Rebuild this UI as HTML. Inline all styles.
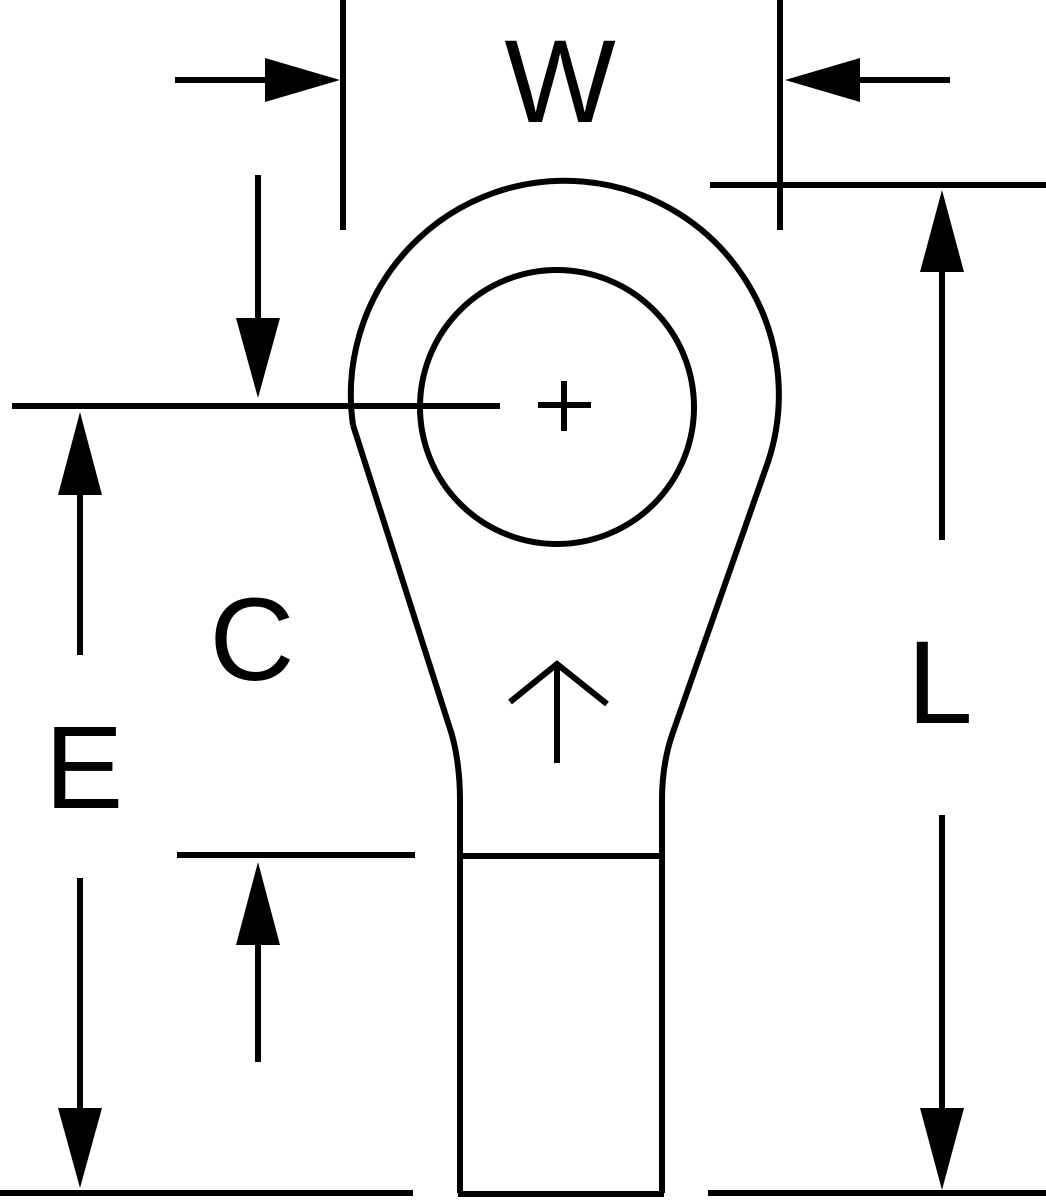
<!DOCTYPE html>
<html><head><style>html,body{margin:0;padding:0;background:#fff;}svg{display:block}</style></head>
<body>
<svg width="1046" height="1200" viewBox="0 0 1046 1200" xmlns="http://www.w3.org/2000/svg">
<g stroke="#000" stroke-width="6" fill="none">
<line x1="343" y1="0" x2="343" y2="230"/>
<line x1="780" y1="0" x2="780" y2="230"/>
<line x1="175" y1="80" x2="300" y2="80"/>
<line x1="820" y1="80" x2="950" y2="80"/>
<line x1="710" y1="185" x2="1046" y2="185"/>
<line x1="708" y1="1193" x2="1046" y2="1193"/>
<line x1="0" y1="1193" x2="413" y2="1193"/>
<line x1="12" y1="406" x2="500" y2="406"/>
<line x1="177" y1="855" x2="415" y2="855"/>
<line x1="942" y1="240" x2="942" y2="540"/>
<line x1="942" y1="815" x2="942" y2="1140"/>
<line x1="80" y1="460" x2="80" y2="655"/>
<line x1="80" y1="878" x2="80" y2="1140"/>
<line x1="258" y1="175" x2="258" y2="350"/>
<line x1="258" y1="910" x2="258" y2="1062"/>
<path d="M353,425 A214,214 0 1 1 768,462 L672,735 Q662,765 662,800 L662,1193"/>
<path d="M353,425 L452,735 Q460,765 460,800 L460,1193"/>
<line x1="460" y1="856" x2="662" y2="856"/>
<line x1="458" y1="1194" x2="664" y2="1194"/>
<circle cx="557" cy="407" r="137"/>
<line x1="538" y1="405" x2="591" y2="405"/>
<line x1="564" y1="381" x2="564" y2="431"/>
<line x1="557" y1="665" x2="557" y2="763"/>
<polyline points="510,702 557,664 607,704"/>
</g>
<g fill="#000">
<polygon points="340,80 265,58 265,102"/>
<polygon points="785,80 860,58 860,102"/>
<polygon points="942,190 920,272 964,272"/>
<polygon points="942,1190 920,1108 964,1108"/>
<polygon points="80,412 58,495 102,495"/>
<polygon points="80,1188 58,1108 102,1108"/>
<polygon points="258,398 236,318 280,318"/>
<polygon points="258,862 236,945 280,945"/>
</g>
<g font-family="Liberation Sans, sans-serif" font-size="118" fill="#000" text-anchor="middle">
<text x="560" y="122">W</text>
<text x="940" y="723">L</text>
<text x="252" y="680">C</text>
<text x="84" y="808">E</text>
</g>
</svg>
</body></html>
